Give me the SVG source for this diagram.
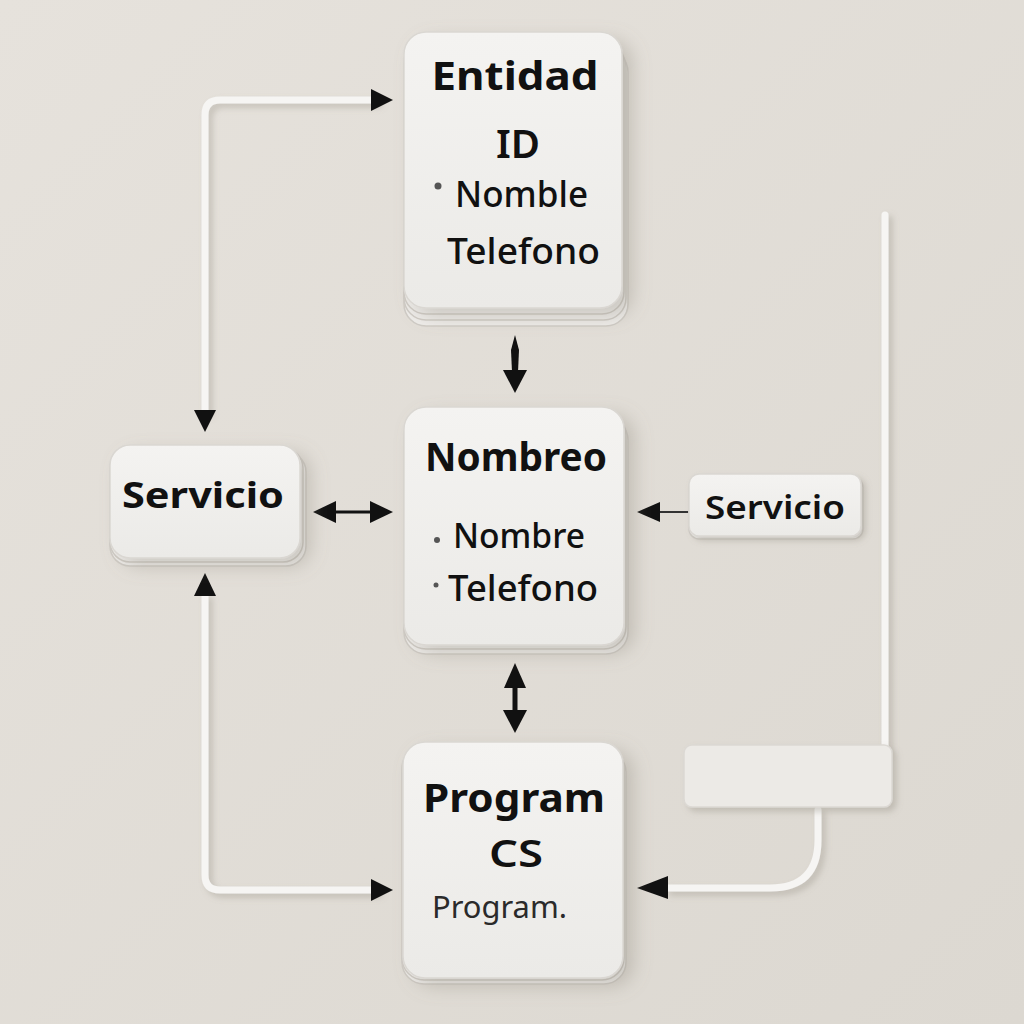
<svg xmlns="http://www.w3.org/2000/svg" width="1024" height="1024" viewBox="0 0 1024 1024">
<defs>
  <linearGradient id="bg" x1="0" y1="0" x2="1" y2="1">
    <stop offset="0" stop-color="#e6e2dc"/>
    <stop offset="1" stop-color="#dcd8d1"/>
  </linearGradient>
  <linearGradient id="card" x1="0" y1="0" x2="0" y2="1">
    <stop offset="0" stop-color="#f4f3f1"/>
    <stop offset="1" stop-color="#ebeae7"/>
  </linearGradient>
  <filter id="sh" x="-20%" y="-20%" width="150%" height="150%">
    <feDropShadow dx="10" dy="8" stdDeviation="9" flood-color="#8a847a" flood-opacity="0.35"/>
  </filter>
  <filter id="tsh" filterUnits="userSpaceOnUse" x="0" y="0" width="1024" height="1024">
    <feDropShadow dx="4" dy="4" stdDeviation="3" flood-color="#8a847a" flood-opacity="0.35"/>
  </filter>
  <style>
    .layer { fill: #eeece9; stroke: #cfcbc5; stroke-width: 1.5; }
    .top { fill: url(#card); stroke: #dad7d2; stroke-width: 1.5; }
    .t { font-family: "Noto Sans", "Open Sans", "Liberation Sans", sans-serif; fill: #111; }
    .b { font-weight: 700; }
    .m { font-weight: 600; }
    .r { font-weight: 500; }
    .tube { fill: none; stroke: #f6f5f3; stroke-width: 7; stroke-linecap: round; stroke-linejoin: round; filter: url(#tsh); }
    .dot { fill: #555; }
  </style>
</defs>
<rect width="1024" height="1024" fill="url(#bg)"/>

<g id="connectors">
  <path class="tube" d="M205,410 L205,115 Q205,100 220,100 L375,100"/>
  <path d="M371,89 L393,100 L371,111 z" fill="#111"/>
  <path d="M194,410 L205,432 L216,410 z" fill="#111"/>
  <path class="tube" d="M205,596 L205,875 Q205,890 220,890 L375,890"/>
  <path d="M194,596 L205,573 L216,596 z" fill="#111"/>
  <path d="M371,879 L393,890 L371,901 z" fill="#111"/>
  <path d="M515,335 L519,350 L518,372 L512,372 L511,350 z" fill="#111"/>
  <path d="M503,370 L527,370 L515,393 z" fill="#111"/>
  <path d="M504,688 L515,663 L526,688 z" fill="#111"/>
  <line x1="515" y1="686" x2="515" y2="712" stroke="#111" stroke-width="5"/>
  <path d="M503,710 L527,710 L515,733 z" fill="#111"/>
  <line x1="330" y1="512" x2="376" y2="512" stroke="#111" stroke-width="3"/>
  <path d="M336,501 L313,512 L336,523 z" fill="#111"/>
  <path d="M370,501 L393,512 L370,523 z" fill="#111"/>
  <line x1="655" y1="512" x2="690" y2="512" stroke="#333" stroke-width="2"/>
  <path d="M660,502 L637,512 L660,522 z" fill="#111"/>
  <path class="tube" d="M885,215 L885,748"/>
  <path class="tube" d="M818,810 L818,840 Q818,888 770,888 L668,888"/>
  <path d="M668,876 L637,888 L668,899 z" fill="#111"/>
</g>

<g id="bar">
  <rect x="684" y="745" width="208" height="62" rx="8" fill="#eceae6" stroke="#dcd9d4" stroke-width="1.5" filter="url(#tsh)"/>
</g>

<g id="entidad">
  <rect class="layer" x="404" y="50" width="224" height="276" rx="22"/>
  <rect class="layer" x="404" y="45" width="222" height="275" rx="22"/>
  <rect class="layer" x="404" y="40" width="220" height="274" rx="22"/>
  <rect class="top" x="404" y="32" width="218" height="276" rx="22" filter="url(#sh)"/>
  <text class="t b" x="515" y="90" font-size="40" text-anchor="middle" textLength="167" lengthAdjust="spacingAndGlyphs">Entidad</text>
  <text class="t m" x="518" y="158" font-size="40" text-anchor="middle">ID</text>
  <circle class="dot" cx="438" cy="186" r="3.5"/>
  <text class="t r" x="455" y="207" font-size="36" textLength="133" lengthAdjust="spacingAndGlyphs">Nomble</text>
  <text class="t r" x="447" y="264" font-size="36" textLength="153" lengthAdjust="spacingAndGlyphs">Telefono</text>
</g>

<g id="nombreo">
  <rect class="layer" x="404" y="418" width="224" height="236" rx="22"/>
  <rect class="layer" x="404" y="413" width="222" height="236" rx="22"/>
  <rect class="top" x="404" y="407" width="220" height="238" rx="22" filter="url(#sh)"/>
  <text class="t b" x="516" y="471" font-size="40" text-anchor="middle" textLength="182" lengthAdjust="spacingAndGlyphs">Nombreo</text>
  <circle class="dot" cx="437" cy="540" r="3"/>
  <text class="t r" x="453" y="548" font-size="34" textLength="132" lengthAdjust="spacingAndGlyphs">Nombre</text>
  <circle class="dot" cx="436" cy="585" r="2.5"/>
  <text class="t r" x="448" y="601" font-size="36" textLength="150" lengthAdjust="spacingAndGlyphs">Telefono</text>
</g>

<g id="program">
  <rect class="layer" x="402" y="750" width="224" height="234" rx="22"/>
  <rect class="layer" x="402" y="746" width="222" height="234" rx="22"/>
  <rect class="top" x="403" y="742" width="220" height="236" rx="22" filter="url(#sh)"/>
  <text class="t b" x="514" y="812" font-size="40" text-anchor="middle" textLength="182" lengthAdjust="spacingAndGlyphs">Program</text>
  <text class="t m" x="516" y="867" font-size="38" text-anchor="middle" textLength="54" lengthAdjust="spacingAndGlyphs">CS</text>
  <text class="t" x="432" y="918" font-size="30" textLength="135" lengthAdjust="spacingAndGlyphs" style="fill:#2a2a2a">Program.</text>
</g>

<g id="servicio-left">
  <rect class="layer" x="110" y="452" width="196" height="114" rx="20"/>
  <rect class="layer" x="110" y="448" width="193" height="114" rx="20"/>
  <rect class="top" x="110" y="445" width="190" height="113" rx="20" filter="url(#sh)"/>
  <text class="t b" x="203" y="508" font-size="36" text-anchor="middle" textLength="162" lengthAdjust="spacingAndGlyphs">Servicio</text>
</g>

<g id="servicio-right">
  <rect class="layer" x="689" y="477" width="174" height="62" rx="10"/>
  <rect class="top" x="689" y="474" width="172" height="62" rx="10" filter="url(#tsh)"/>
  <text class="t m" x="775" y="519" font-size="32" text-anchor="middle" textLength="140" lengthAdjust="spacingAndGlyphs">Servicio</text>
</g>
</svg>
